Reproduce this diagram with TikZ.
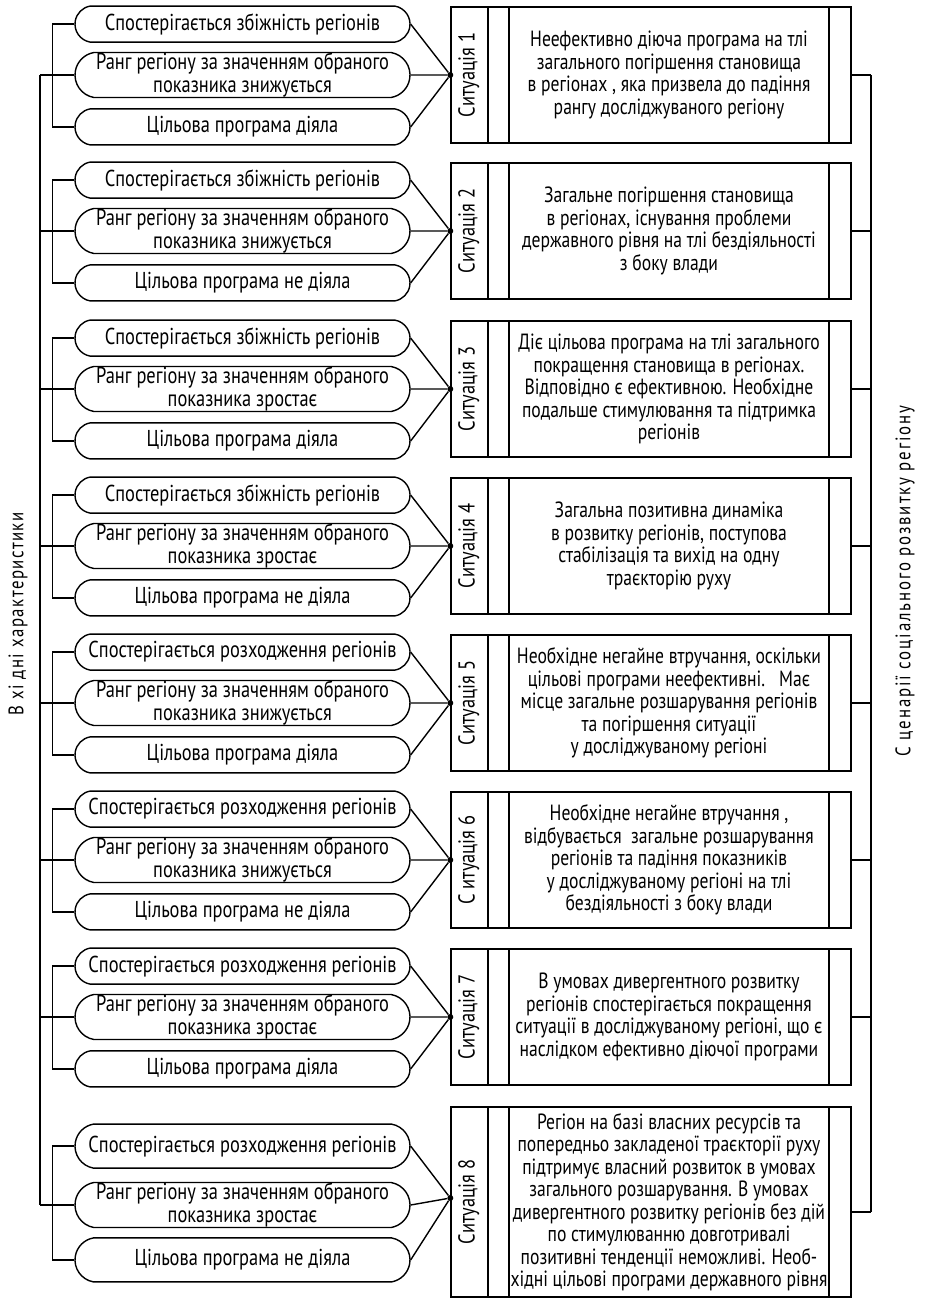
\documentclass[tikz,border=0pt]{standalone}
\usepackage{fontspec}
\setmainfont[FakeStretch=0.8]{PT Sans}
\newfontfamily\inlblfont[FakeStretch=0.8, LetterSpace=7]{PT Sans}
\newfontfamily\outlblfont[FakeStretch=0.8, LetterSpace=9]{PT Sans}
\usepackage{tikz}
\usetikzlibrary{shapes.misc, positioning, calc}
\tikzset{
	featbox/.style={draw, rounded rectangle, rounded rectangle arc length=160, minimum width=335pt, minimum height=36pt, inner sep=0pt, align=center, line width=1.4pt, font=\fontsize{23}{22.5}\selectfont},
	featboxtall/.style={featbox, minimum height=45pt},
	sitbox/.style={draw, rectangle, minimum width=400pt, minimum height=#1, line width=1.4pt,
		path picture={
			\draw[line width=1.4pt] ([xshift=37pt]path picture bounding box.north west) -- ([xshift=37pt]path picture bounding box.south west)
				([xshift=58pt]path picture bounding box.north west) -- ([xshift=58pt]path picture bounding box.south west)
				([xshift=-22pt]path picture bounding box.north east) -- ([xshift=-22pt]path picture bounding box.south east);
		}},
	sitlabel/.style={rotate=90, inner sep=0pt, font=\fontsize{23}{22.5}\selectfont},
	desctext/.style={align=center, inner sep=0pt, font=\fontsize{22}{22.5}\selectfont},
	jdot/.style={circle, fill, inner sep=0pt, minimum size=6pt},
	link/.style={line width=1.4pt},
}

\begin{document}
\begin{tikzpicture}[x=1pt, y=-1pt]
		\useasboundingbox (0,0) rectangle (935,1301);
		\coordinate (lbus) at (40,0);
		\coordinate (rbus) at (871,0);

		% Situation 1
		\node[featboxtall] (sgn1b) at (242.5,75) {Ранг регіону за значенням обраного\\показника знижується};
		\node[featbox, above=9pt of sgn1b] (sgn1a) {Спостерігається збіжність регіонів};
		\node[featbox, below=10pt of sgn1b] (sgn1c) {Цільова програма діяла};
		\node[sitbox=136pt] (sit1) at (651,75) {};
		\node[sitlabel] (lab1) at ([xshift=18.5pt]sit1.west) {Ситуація 1};
		\node[desctext] (txt1) at (669,75) {Неефективно діюча програма на тлі\\загального погіршення становища\\в регіонах , яка призвела до падіння\\рангу досліджуваного регіону};
		\node[jdot] (jn1) at (sit1.west) {};
		\draw[link] (sgn1a.east) -- (jn1) (sgn1b.east) -- (jn1) (sgn1c.east) -- (jn1);
		\draw[link] (sgn1a.west) -- ++(-22,0) |- (sgn1c.west) (sgn1b.west) -- (sgn1b.west -| lbus);
		\draw[link] (sit1.east) -- (sit1.east -| rbus);

		% Situation 2
		\node[featboxtall] (sgn2b) at (242.5,231) {Ранг регіону за значенням обраного\\показника знижується};
		\node[featbox, above=9pt of sgn2b] (sgn2a) {Спостерігається збіжність регіонів};
		\node[featbox, below=10pt of sgn2b] (sgn2c) {Цільова програма не діяла};
		\node[sitbox=136pt] (sit2) at (651,231) {};
		\node[sitlabel] (lab2) at ([xshift=18.5pt]sit2.west) {Ситуація 2};
		\node[desctext] (txt2) at (669,231) {Загальне погіршення становища\\в регіонах, існування проблеми\\державного рівня на тлі бездіяльності\\з боку влади};
		\node[jdot] (jn2) at (sit2.west) {};
		\draw[link] (sgn2a.east) -- (jn2) (sgn2b.east) -- (jn2) (sgn2c.east) -- (jn2);
		\draw[link] (sgn2a.west) -- ++(-22,0) |- (sgn2c.west) (sgn2b.west) -- (sgn2b.west -| lbus);
		\draw[link] (sit2.east) -- (sit2.east -| rbus);

		% Situation 3
		\node[featboxtall] (sgn3b) at (242.5,389) {Ранг регіону за значенням обраного\\показника зростає};
		\node[featbox, above=9pt of sgn3b] (sgn3a) {Спостерігається збіжність регіонів};
		\node[featbox, below=10pt of sgn3b] (sgn3c) {Цільова програма діяла};
		\node[sitbox=136pt] (sit3) at (651,389) {};
		\node[sitlabel] (lab3) at ([xshift=18.5pt]sit3.west) {Ситуація 3};
		\node[desctext] (txt3) at (669,389) {Діє цільова програма на тлі загального\\покращення становища в регіонах.\\Відповідно є ефективною. Необхідне\\подальше стимулювання та підтримка\\регіонів};
		\node[jdot] (jn3) at (sit3.west) {};
		\draw[link] (sgn3a.east) -- (jn3) (sgn3b.east) -- (jn3) (sgn3c.east) -- (jn3);
		\draw[link] (sgn3a.west) -- ++(-22,0) |- (sgn3c.west) (sgn3b.west) -- (sgn3b.west -| lbus);
		\draw[link] (sit3.east) -- (sit3.east -| rbus);

		% Situation 4
		\node[featboxtall] (sgn4b) at (242.5,546) {Ранг регіону за значенням обраного\\показника зростає};
		\node[featbox, above=9pt of sgn4b] (sgn4a) {Спостерігається збіжність регіонів};
		\node[featbox, below=10pt of sgn4b] (sgn4c) {Цільова програма не діяла};
		\node[sitbox=136pt] (sit4) at (651,546) {};
		\node[sitlabel] (lab4) at ([xshift=18.5pt]sit4.west) {Ситуація 4};
		\node[desctext] (txt4) at (669,546) {Загальна позитивна динаміка\\в розвитку регіонів, поступова\\стабілізація та вихід на одну\\траєкторію руху};
		\node[jdot] (jn4) at (sit4.west) {};
		\draw[link] (sgn4a.east) -- (jn4) (sgn4b.east) -- (jn4) (sgn4c.east) -- (jn4);
		\draw[link] (sgn4a.west) -- ++(-22,0) |- (sgn4c.west) (sgn4b.west) -- (sgn4b.west -| lbus);
		\draw[link] (sit4.east) -- (sit4.east -| rbus);

		% Situation 5
		\node[featboxtall] (sgn5b) at (242.5,703) {Ранг регіону за значенням обраного\\показника знижується};
		\node[featbox, above=9pt of sgn5b] (sgn5a) {Спостерігається розходження регіонів};
		\node[featbox, below=10pt of sgn5b] (sgn5c) {Цільова програма діяла};
		\node[sitbox=136pt] (sit5) at (651,703) {};
		\node[sitlabel] (lab5) at ([xshift=18.5pt]sit5.west) {Ситуація 5};
		\node[desctext] (txt5) at (669,703) {Необхідне негайне втручання, оскільки\\цільові програми неефективні.~~~Має\\місце загальне розшарування регіонів\\та погіршення ситуації\\у досліджуваному регіоні};
		\node[jdot] (jn5) at (sit5.west) {};
		\draw[link] (sgn5a.east) -- (jn5) (sgn5b.east) -- (jn5) (sgn5c.east) -- (jn5);
		\draw[link] (sgn5a.west) -- ++(-22,0) |- (sgn5c.west) (sgn5b.west) -- (sgn5b.west -| lbus);
		\draw[link] (sit5.east) -- (sit5.east -| rbus);

		% Situation 6
		\node[featboxtall] (sgn6b) at (242.5,860) {Ранг регіону за значенням обраного\\показника знижується};
		\node[featbox, above=9pt of sgn6b] (sgn6a) {Спостерігається розходження регіонів};
		\node[featbox, below=10pt of sgn6b] (sgn6c) {Цільова програма не діяла};
		\node[sitbox=136pt] (sit6) at (651,860) {};
		\node[sitlabel] (lab6) at ([xshift=18.5pt]sit6.west) {С итуація 6};
		\node[desctext] (txt6) at (669,860) {Необхідне негайне втручання ,\\відбувається~~загальне розшарування\\регіонів та падіння показників\\у досліджуваному регіоні на тлі\\бездіяльності з боку влади};
		\node[jdot] (jn6) at (sit6.west) {};
		\draw[link] (sgn6a.east) -- (jn6) (sgn6b.east) -- (jn6) (sgn6c.east) -- (jn6);
		\draw[link] (sgn6a.west) -- ++(-22,0) |- (sgn6c.west) (sgn6b.west) -- (sgn6b.west -| lbus);
		\draw[link] (sit6.east) -- (sit6.east -| rbus);

		% Situation 7
		\node[featboxtall] (sgn7b) at (242.5,1017) {Ранг регіону за значенням обраного\\показника зростає};
		\node[featbox, above=9pt of sgn7b] (sgn7a) {Спостерігається розходження регіонів};
		\node[featbox, below=10pt of sgn7b] (sgn7c) {Цільова програма діяла};
		\node[sitbox=136pt] (sit7) at (651,1017) {};
		\node[sitlabel] (lab7) at ([xshift=18.5pt]sit7.west) {Ситуація 7};
		\node[desctext] (txt7) at (669,1017) {В умовах дивергентного розвитку\\регіонів спостерігається покращення\\ситуації в досліджуваному регіоні, що є\\наслідком ефективно діючої програми};
		\node[jdot] (jn7) at (sit7.west) {};
		\draw[link] (sgn7a.east) -- (jn7) (sgn7b.east) -- (jn7) (sgn7c.east) -- (jn7);
		\draw[link] (sgn7a.west) -- ++(-22,0) |- (sgn7c.west) (sgn7b.west) -- (sgn7b.west -| lbus);
		\draw[link] (sit7.east) -- (sit7.east -| rbus);

		% Situation 8
		\node[featboxtall] (sgn8b) at (242.5,1205) {Ранг регіону за значенням обраного\\показника зростає};
		\node[featbox, minimum height=44pt, above=13pt of sgn8b] (sgn8a) {Спостерігається розходження регіонів};
		\node[featbox, minimum height=44pt, below=9pt of sgn8b] (sgn8c) {Цільова програма не діяла};
		\node[sitbox=190pt] (sit8) at (651,1202) {};
		\node[sitlabel] (lab8) at ([xshift=18.5pt]sit8.west) {Ситуація 8};
		\node[desctext] (txt8) at (669,1202) {Регіон на базі власних ресурсів та\\попередньо закладеної траєкторії руху\\підтримує власний розвиток в умовах\\загального розшарування. В умовах\\дивергентного розвитку регіонів без дій\\по стимулюванню довготривалі\\позитивні тенденції неможливі. Необ-\\хідні цільові програми державного рівня};
		\node[jdot] (jn8) at ([yshift=4pt]sit8.west) {};
		\draw[link] (sgn8a.east) -- (jn8) (sgn8b.east) -- (jn8) (sgn8c.east) -- (jn8);
		\draw[link] (sgn8a.west) -- ++(-22,0) |- (sgn8c.west) (sgn8b.west) -- (sgn8b.west -| lbus);
		\draw[link] ([yshift=-10pt]sit8.east) -- ([yshift=-10pt]sit8.east -| rbus);

		% Buses and titles
		\draw[link] (sgn1b.west -| lbus) -- (sgn8b.west -| lbus);
		\draw[link] (sit1.east -| rbus) -- ([yshift=-10pt]sit8.east -| rbus);
		\node[rotate=90, font=\inlblfont\fontsize{21}{24}\selectfont] (inlbl) at (18,614) {В хі дні характеристики};
		\node[rotate=90, font=\outlblfont\fontsize{21}{24}\selectfont] (outlbl) at (905,581) {С ценарії соціального розвитку регіону};
	\end{tikzpicture}
\end{document}
